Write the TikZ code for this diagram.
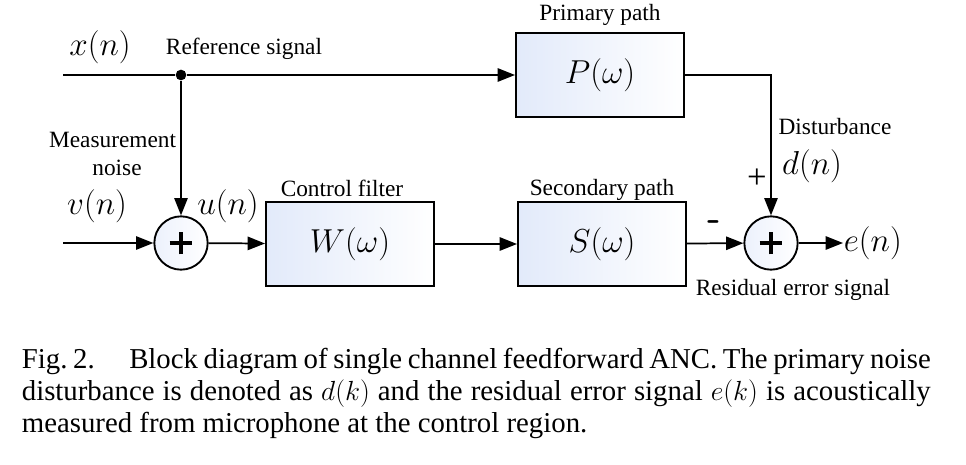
\documentclass[tikz,border=0pt]{standalone}
\usepackage{fontspec}
\setmainfont{Liberation Serif}
\usetikzlibrary{arrows.meta}
\definecolor{pale}{RGB}{226,234,250}
\definecolor{paler}{RGB}{236,241,252}
\begin{document}
\begin{tikzpicture}[x=0.75pt,y=-0.75pt,line width=1.3pt,
  >={Triangle[length=13pt,width=10pt]},
  blk/.style={draw,line width=1.5pt,minimum width=126pt,minimum height=63pt,inner sep=0pt,
    left color=pale,right color=white,font=\fontsize{25}{28}\selectfont},
  sumnode/.style={circle,draw,line width=1.4pt,minimum size=40pt,inner sep=0pt,
    left color=paler,right color=white,
    path picture={
      \draw[line width=2.4pt] ([xshift=-8.5pt]path picture bounding box.center) -- ([xshift=8.5pt]path picture bounding box.center);
      \draw[line width=2.4pt] ([yshift=-8.5pt]path picture bounding box.center) -- ([yshift=8.5pt]path picture bounding box.center);}},
  lbl/.style={inner sep=0pt,font=\fontsize{17.5}{20}\selectfont},
  mth/.style={inner sep=0pt,font=\fontsize{25}{28}\selectfont},
  capline/.style={inner sep=0pt,anchor=base west,font=\fontsize{21.6}{24}\selectfont}]
\useasboundingbox (0,0) rectangle (966,464);
% blocks
\node[blk] (P) at (600,75) {$P(\omega)$};
\node[blk] (W) at (350,244) {$W(\omega)$};
\node[blk] (S) at (602,244) {$S(\omega)$};
\node[sumnode] (s1) at (181,243) {};
\node[sumnode] (s2) at (771,243) {};
\node[circle,fill,inner sep=0pt,minimum size=8pt] (dot) at (181,75) {};
\coordinate (xin) at (63,75);
\coordinate (vin) at (63,243);
\node[mth,anchor=west] (en) at (843,243) {$e(n)$};
% connectors
\draw (xin) -- (dot);
\draw[->] (dot) -- (P);
\draw[->] (dot) -- (s1);
\draw[->] (vin) -- (s1);
\draw[->] (s1) -- (W);
\draw[->] (W) -- (S);
\draw[->] (S) -- (s2);
\draw[->] (P.east) -| (s2.north);
\draw[->] (s2) -- (en);
% labels
\node[mth,font=\fontsize{30}{32}\selectfont] (xn) at (100,47) {$x(n)$};
\node[lbl] (reflab) at (244,49) {Reference signal};
\node[lbl] (plab) at (600,15) {Primary path};
\node[lbl,anchor=east] (meas) at (177,140) {Measurement};
\node[lbl] (noise) at (117,168) {noise};
\node[mth] (vn) at (97,206) {$v(n)$};
\node[mth] (un) at (228,206) {$u(n)$};
\node[lbl] (clab) at (342,188) {Control filter};
\node[lbl] (slab) at (602,190) {Secondary path};
\node[lbl] (dlab) at (835,127) {Disturbance};
\node[mth] (dn) at (812,166) {$d(n)$};
\node[inner sep=0pt,font=\fontsize{26}{28}\selectfont] (plus) at (757,179) {+};
\node[inner sep=0pt,font=\fontsize{28}{28}\selectfont\sffamily\bfseries] (minus) at (714,226) {-};
\node[lbl] (rlab) at (793,290) {Residual error signal};
% caption
\node[capline] (c1) at (21,368) {\makebox[681.75pt][s]{Fig.~2.\hspace{1.2em}Block diagram of single channel feedforward ANC. The primary noise}};
\node[capline] (c2) at (21,400) {\makebox[681.75pt][s]{disturbance is denoted as $d(k)$ and the residual error signal $e(k)$ is acoustically}};
\node[capline] (c3) at (21,432) {measured from microphone at the control region.};
\end{tikzpicture}
\end{document}
